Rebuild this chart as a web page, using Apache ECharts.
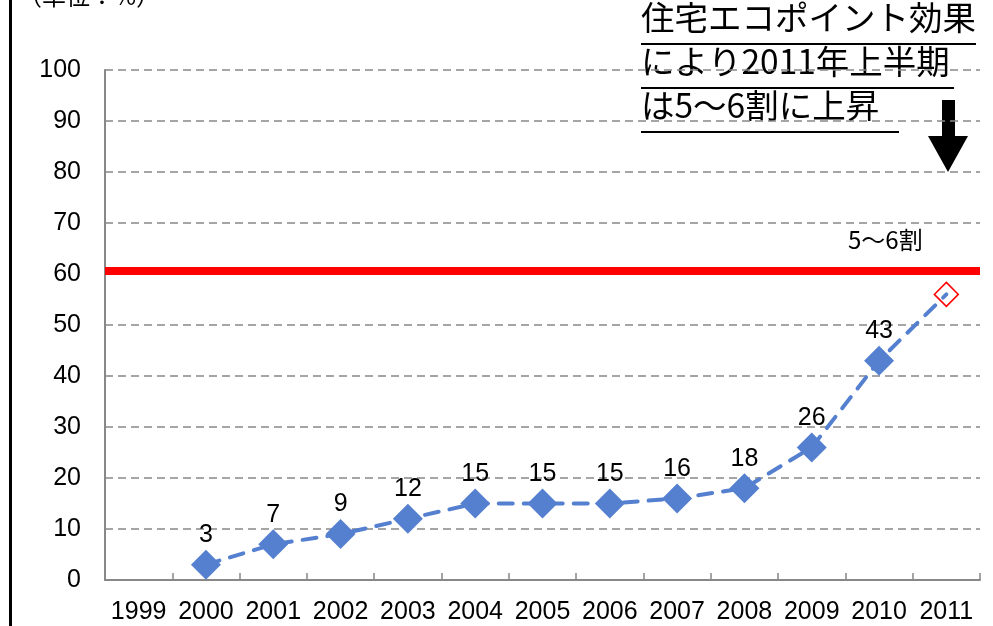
<!DOCTYPE html>
<html>
<head>
<meta charset="utf-8">
<script src="https://cdn.jsdelivr.net/npm/echarts@6/dist/echarts.min.js"></script>
<style>
  html, body { margin: 0; padding: 0; background: #fff; }
  #chart { width: 993px; height: 626px; }
</style>
</head>
<body>
<div id="chart"></div>
<script>
// 年度
const years = ['1999', '2000', '2001', '2002', '2003', '2004', '2005', '2006', '2007', '2008', '2009', '2010', '2011'];
// 実績（単位：%）
const actual = [null, 3, 7, 9, 12, 15, 15, 15, 16, 18, 26, 43, null];
// 2011年上半期の見込み
const forecast2011 = 56;
// 5〜6割ライン
const targetLine = 60.6;
const yTicks = [0, 10, 20, 30, 40, 50, 60, 70, 80, 90, 100];

const blue = '#5580D0';
const fontEn = '"Liberation Sans", Arial, sans-serif';
const fontJa = '"Noto Sans CJK JP", sans-serif';

// 実績 + 見込み点をひとつの系列にする
const seriesData = years.map((y, i) => {
  if (i === years.length - 1) {
    return {
      value: forecast2011,
      symbolSize: 24,
      itemStyle: { color: 'rgba(0,0,0,0)', borderColor: '#FF0000', borderWidth: 1.5 },
      label: { show: false }
    };
  }
  return actual[i];
});

const chart = echarts.init(document.getElementById('chart'));

const option = {
  animation: false,
  grid: { left: 105, right: 13, top: 70, bottom: 46 },
  xAxis: {
    type: 'category',
    data: years,
    boundaryGap: true,
    axisLine: { lineStyle: { color: '#888', width: 2 } },
    axisTick: { show: true, inside: true, length: 7, lineStyle: { color: '#888', width: 1.5 } },
    axisLabel: { color: '#000', fontSize: 25, fontFamily: fontEn, margin: 20, interval: 0 }
  },
  yAxis: {
    type: 'value',
    min: yTicks[0],
    max: yTicks[yTicks.length - 1],
    interval: 10,
    axisLine: { show: true, lineStyle: { color: '#888', width: 2 } },
    axisTick: { show: false },
    axisLabel: { color: '#000', fontSize: 25, fontFamily: fontEn, margin: 24 },
    splitLine: { lineStyle: { color: '#888', width: 1.5, type: [8, 5] } }
  },
  series: [
    {
      type: 'line',
      data: seriesData,
      connectNulls: false,
      symbol: 'diamond',
      symbolSize: 30,
      itemStyle: { color: blue },
      lineStyle: { color: blue, width: 4, type: [14, 11], cap: 'round' },
      label: {
        show: true,
        position: 'top',
        distance: 2,
        color: '#000',
        fontSize: 25,
        fontFamily: fontEn
      },
      markLine: {
        silent: true,
        symbol: 'none',
        label: { show: false },
        lineStyle: { color: '#FF0000', width: 8, type: 'solid' },
        data: [{ yAxis: targetLine }]
      },
      z: 3
    }
  ],
  graphic: [
    // 左端の縦線
    { type: 'rect', shape: { x: 9, y: 0, width: 3, height: 626 }, style: { fill: '#000' } },
    { type: 'text', left: 18, top: -16, style: { text: '（単位：%）', font: '24px ' + fontJa, fill: '#000' } },
    { type: 'text', left: 848, top: 228, style: { text: '5〜6割', font: '24px ' + fontJa, fill: '#000' } },
    // 注記
    { type: 'text', left: 641, top: 1, style: { text: '住宅エコポイント効果', font: '33.5px ' + fontJa, fill: '#000' } },
    { type: 'text', left: 641, top: 45, style: { text: 'により2011年上半期', font: '33.5px ' + fontJa, fill: '#000' } },
    { type: 'text', left: 641, top: 89, style: { text: 'は5〜6割に上昇', font: '33.5px ' + fontJa, fill: '#000' } },
    { type: 'line', shape: { x1: 641, y1: 44, x2: 976, y2: 44 }, style: { stroke: '#000', lineWidth: 2 } },
    { type: 'line', shape: { x1: 641, y1: 88, x2: 954, y2: 88 }, style: { stroke: '#000', lineWidth: 2 } },
    { type: 'line', shape: { x1: 641, y1: 132, x2: 899, y2: 132 }, style: { stroke: '#000', lineWidth: 2 } },
    // 下向き矢印
    {
      type: 'polygon',
      shape: { points: [[942, 100], [955, 100], [955, 136], [968, 136], [948, 172], [928, 136], [942, 136]] },
      style: { fill: '#000' }
    }
  ]
};

chart.setOption(option);
</script>
</body>
</html>
